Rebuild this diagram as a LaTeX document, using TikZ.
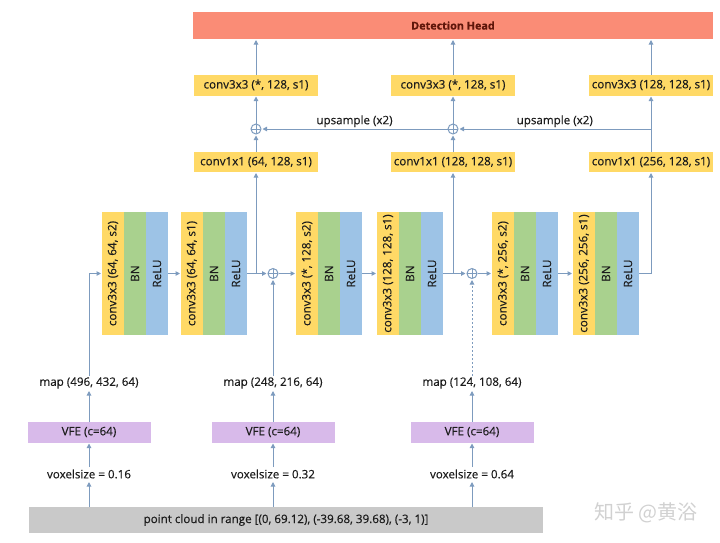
\documentclass[tikz,border=0pt]{standalone}
\usepackage{fontspec}
\setmainfont{Open Sans}[FakeBold=0.4]
\newfontfamily\cjkfont{Noto Sans CJK SC}
\usepackage{graphicx,xcolor}
\definecolor{nnyellow}{RGB}{255,217,102}
\definecolor{nngreen}{RGB}{169,209,142}
\definecolor{nnblue}{RGB}{157,195,230}
\definecolor{nnpurple}{RGB}{216,186,234}
\definecolor{nnsalmon}{RGB}{250,140,118}
\definecolor{nngray}{RGB}{201,201,201}
\definecolor{nnline}{RGB}{125,155,190}
\definecolor{nntext}{RGB}{28,28,28}
\definecolor{nnhead}{RGB}{95,22,10}
\usetikzlibrary{arrows.meta,positioning}

\begin{document}
\begin{tikzpicture}[x=1pt,y=-1pt,
  font=\fontsize{11.6}{13}\selectfont, text=nntext,
  arr/.style={draw=nnline,line width=1pt,-{Triangle[length=4.5pt,width=4.5pt]},shorten >=1pt},
  box/.style={inner sep=0pt,outer sep=0pt,minimum height=20pt},
  strip/.style={inner sep=0pt,outer sep=0pt,minimum width=22pt,minimum height=123pt},
  sumnode/.style={circle,draw=nnline,line width=1pt,minimum size=10pt,inner sep=0pt,
    path picture={\draw[nnline,line width=1pt] (path picture bounding box.north) -- (path picture bounding box.south)
      (path picture bounding box.west) -- (path picture bounding box.east);}}]
  \useasboundingbox (0,0) rectangle (720,542);

  % head and top columns
  \node[box,fill=nnsalmon,minimum width=520pt,minimum height=27pt,font=\fontsize{10.8}{12}\selectfont\bfseries,text=nnhead] (head) at (453,25.5) {Detection Head};
  \node[box,fill=nnyellow,minimum width=124pt,minimum height=21pt] (t1) at (256,85) {conv3x3 (*, 128, s1)};
  \node[box,fill=nnyellow,minimum width=124pt,minimum height=21pt] (t2) at (453,85) {conv3x3 (*, 128, s1)};
  \node[box,fill=nnyellow,minimum width=124pt,minimum height=21pt] (t3) at (651,85) {conv3x3 (128, 128, s1)};
  \node[box,fill=nnyellow,minimum width=124pt] (k1) at (256,162) {conv1x1 (64, 128, s1)};
  \node[box,fill=nnyellow,minimum width=124pt] (k2) at (453,162) {conv1x1 (128, 128, s1)};
  \node[box,fill=nnyellow,minimum width=124pt] (k3) at (651,162) {conv1x1 (256, 128, s1)};
  \node[sumnode] (q1) at (256,129) {};
  \node[sumnode] (q2) at (453,129) {};
  \coordinate (j3) at (k3 |- q2);

  % conv / BN / ReLU blocks
  \foreach \i/\x/\t in {1/113/{64, 64, s2},2/192/{64, 64, s1},3/307/{*, 128, s2},4/388/{128, 128, s1},5/503/{*, 256, s2},6/584/{256, 256, s1}}{
    \node[strip,fill=nnyellow] (c\i) at (\x,273.5) {\rotatebox{90}{conv3x3 (\t)}};
    \node[strip,fill=nngreen,right=0pt of c\i] (bn\i) {\rotatebox{90}{BN}};
    \node[strip,fill=nnblue,right=0pt of bn\i] (re\i) {\rotatebox{90}{ReLU}};
  }
  \node[sumnode] (s1) at (273,273.5) {};
  \node[sumnode] (s2) at (472,273.5) {};

  % inputs
  \node[box,fill=nngray,minimum width=514pt,minimum height=26pt] (pc) at (286,520) {point cloud in range [(0, 69.12), (-39.68, 39.68), (-3, 1)]};
  \foreach \i/\x/\s in {1/89/0.16,2/273/0.32,3/472/0.64}{
    \node[box,minimum height=14pt] (x\i) at (\x,474) {voxelsize = \s};
    \node[box,fill=nnpurple,minimum width=123pt,minimum height=21pt] (v\i) at (\x,432) {VFE (c=64)};
  }
  \node[box,minimum height=14pt] (m1) at (89,383) {map (496, 432, 64)};
  \node[box,minimum height=14pt] (m2) at (273,383) {map (248, 216, 64)};
  \node[box,minimum height=14pt] (m3) at (472,383) {map (124, 108, 64)};

  \foreach \i in {1,2,3}{
    \draw[arr] (x\i |- pc.north) -- (x\i);
    \draw[arr] (x\i) -- (v\i);
    \draw[arr] (v\i) -- (m\i);
    \draw[arr] (t\i) -- (t\i |- head.south);
  }
  \draw[arr] (m1) |- (c1.west);
  \draw[arr] (m2) -- (s1);
  \draw[arr,dash pattern=on 2pt off 2pt] (m3) -- (s2);
  \foreach \a/\b in {re1/c2,re2/s1,s1/c3,re3/c4,re4/s2,s2/c5,re5/c6}{\draw[arr] (\a.east) -- (\b.west);}
  \draw[arr] (k1 |- re2.east) -- (k1);
  \draw[arr] (k2 |- re4.east) -- (k2);
  \draw[arr] (re6.east) -| (k3);
  \draw[arr] (k1) -- (q1);
  \draw[arr] (k2) -- (q2);
  \draw[arr] (q1) -- (t1);
  \draw[arr] (q2) -- (t2);
  \draw[arr] (k3) -- (t3);
  \draw[arr] (q2) -- node[above,inner sep=1.5pt] {upsample (x2)} (q1);
  \draw[arr] (j3) -- node[above,inner sep=1.5pt] {upsample (x2)} (q2);

  \node[text=nngray!85,font=\cjkfont\fontsize{20}{22}\selectfont] (wm) at (646,513) {知乎 @黄浴};
\end{tikzpicture}
\end{document}
